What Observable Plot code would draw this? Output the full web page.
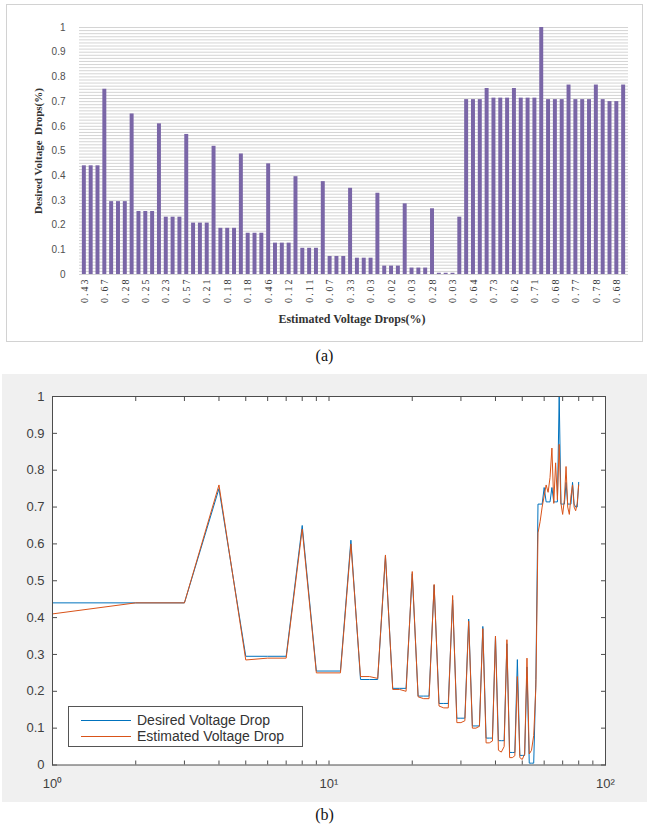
<!DOCTYPE html>
<html><head><meta charset="utf-8">
<script src="https://cdn.jsdelivr.net/npm/d3@7"></script>
<script src="https://cdn.jsdelivr.net/npm/@observablehq/plot@0.6"></script>
<style>
body{margin:0;background:#fff;width:649px;height:827px;position:relative;overflow:hidden;font-family:"Liberation Serif",serif}
#frameA{position:absolute;left:6px;top:4px;width:637px;height:338px;box-sizing:border-box;border:1.5px solid #d2d2d2}
#chartA{position:absolute;left:0;top:0}
#chartA g[aria-label="x-axis tick label"] text{letter-spacing:2px}
#ytitleA{position:absolute;left:38px;top:151px;transform:translate(-50%,-50%) rotate(-90deg);white-space:pre;font:bold 11px "Liberation Serif";color:#333}
#xtitleA{position:absolute;left:352px;top:319px;transform:translate(-50%,-50%);white-space:nowrap;font:bold 12px "Liberation Serif";color:#333}
.cap{position:absolute;left:0;width:649px;text-align:center;font:16px "Liberation Serif";color:#111}
#panelB{position:absolute;left:2px;top:374px;width:645px;height:428px;background:#f0f0f0}
#legend{position:absolute;left:68px;top:706px;width:235px;height:41px;box-sizing:border-box;background:#fff;border:1px solid #555;font:14px "Liberation Sans";color:#333}
.lrow{position:absolute;left:0;height:16px;display:flex;align-items:center}
.lline{width:50px;height:0;border-top:1px solid;margin-left:12px;margin-right:6px}
</style></head>
<body>
<div id="frameA"></div>
<div id="chartA"></div>
<div id="ytitleA">Desired Voltage  Drops(%)</div>
<div id="xtitleA">Estimated Voltage Drops(%)</div>
<div class="cap" style="top:347px">(a)</div>
<div id="panelB"></div>
<div id="legend">
  <div class="lrow" style="top:5px"><div class="lline" style="border-color:#0072BD"></div><span>Desired Voltage Drop</span></div>
  <div class="lrow" style="top:21px"><div class="lline" style="border-color:#D95319"></div><span>Estimated Voltage Drop</span></div>
</div>
<div class="cap" style="top:806px">(b)</div>
<script>
// Desired voltage drops (bars in (a), blue line in (b)), one value per sample
const desired = [
  0.44,0.44,0.44,0.75,
  0.295,0.295,0.295,0.65,
  0.255,0.255,0.255,0.61,
  0.232,0.232,0.232,0.567,
  0.208,0.208,0.208,0.519,
  0.187,0.187,0.187,0.488,
  0.167,0.167,0.167,0.448,
  0.127,0.127,0.127,0.396,
  0.106,0.106,0.106,0.376,
  0.073,0.073,0.073,0.349,
  0.066,0.066,0.066,0.329,
  0.034,0.034,0.034,0.286,
  0.026,0.026,0.026,0.266,
  0.005,0.005,0.005,0.232,
  0.708,0.708,0.708,0.753,
  0.714,0.714,0.714,0.753,
  0.714,0.714,0.714,1.0,
  0.708,0.708,0.708,0.767,
  0.708,0.708,0.708,0.767,
  0.708,0.70,0.70,0.767
];
// Estimated voltage drops (orange line in (b))
const estimated = [
  0.41,0.44,0.44,0.76,
  0.285,0.29,0.29,0.64,
  0.25,0.25,0.25,0.60,
  0.24,0.24,0.235,0.57,
  0.205,0.205,0.20,0.525,
  0.185,0.18,0.18,0.49,
  0.16,0.155,0.155,0.46,
  0.115,0.115,0.12,0.39,
  0.10,0.10,0.105,0.37,
  0.06,0.06,0.065,0.35,
  0.04,0.035,0.05,0.34,
  0.02,0.02,0.025,0.24,
  0.02,0.015,0.03,0.29,
  0.03,0.04,0.08,0.21,
  0.63,0.66,0.70,0.73,
  0.76,0.74,0.78,0.86,
  0.71,0.82,0.72,0.87,
  0.71,0.68,0.72,0.81,
  0.70,0.68,0.73,0.76,
  0.70,0.69,0.71,0.76
];
// Category tick labels of (a), shown on every third bar
const estLabels = ["0.43","0.67","0.28","0.25","0.23","0.57","0.21","0.18","0.18","0.46","0.12","0.11","0.07","0.33","0.03","0.02","0.03","0.28","0.03","0.64","0.73","0.62","0.71","0.68","0.77","0.78","0.68"];
const yTicksA = [0,0.1,0.2,0.3,0.4,0.5,0.6,0.7,0.8,0.9,1];
const yTickLabelsA = ["0","0.1","0.2","0.3","0.4","0.5","0.6","0.7","0.8","0.9","1"];
const yTicksB = [0,0.1,0.2,0.3,0.4,0.5,0.6,0.7,0.8,0.9,1];
const yTickLabelsB = ["0","0.1","0.2","0.3","0.4","0.5","0.6","0.7","0.8","0.9","1"];
const xTicksB = [1,10,100];
const xTickLabelsB = ["10\u2070","10\u00B9","10\u00B2"];
const xMinorB = [1,2,3,4,5,6,7,8,9,10,20,30,40,50,60,70,80,90,100];

const bars = desired.map((v,i)=>({i, v}));
const labelTicks = estLabels.map((_,k)=>k*3);
const gridA = d3.range(0, 1.0001, 0.0125);

const chartA = Plot.plot({
  width:649, height:330,
  marginLeft:79, marginRight:21, marginTop:27, marginBottom:56,
  style:{background:"transparent", fontFamily:"Liberation Serif", fontSize:"10px", color:"#333"},
  x:{type:"band", domain:d3.range(80), padding:0.42},
  y:{domain:[0,1]},
  marks:[
    Plot.ruleY(gridA, {stroke:"#d4d4d4", strokeWidth:1}),
    Plot.barY(bars, {x:"i", y:"v", fill:"#7a66a7"}),
    Plot.axisY({ticks:yTicksA, tickSize:0, tickPadding:14, label:null, fontFamily:"Liberation Sans", fill:"#505050",
      tickFormat:d=>yTickLabelsA[yTicksA.indexOf(d)]}),
    Plot.axisX({ticks:labelTicks, tickSize:0, tickPadding:3, tickRotate:-90, label:null, fill:"#333",
      tickFormat:i=>estLabels[i/3]})
  ]
});
document.getElementById("chartA").append(chartA);

const chartB = Plot.plot({
  width:645, height:428,
  marginLeft:50, marginRight:42, marginTop:22, marginBottom:37.5,
  style:{background:"transparent", fontFamily:"Liberation Sans", fontSize:"13px", color:"#333"},
  x:{type:"log", domain:[1,100]},
  y:{domain:[0,1]},
  marks:[
    Plot.frame({fill:"white", stroke:"none"}),
    Plot.line(desired, {x:(d,i)=>i+1, y:d=>d, stroke:"#0072BD", strokeWidth:1}),
    Plot.line(estimated, {x:(d,i)=>i+1, y:d=>d, stroke:"#D95319", strokeWidth:1}),
    Plot.frame({stroke:"#4d4d4d", strokeWidth:1}),
    Plot.axisY({anchor:"left", ticks:yTicksB, tickSize:0, tickPadding:8, label:null, fill:"#404040",
      tickFormat:d=>yTickLabelsB[yTicksB.indexOf(d)]}),
    Plot.axisY({anchor:"left", ticks:yTicksB, tickSize:5, dx:5, fill:"none", label:null, stroke:"#4d4d4d"}),
    Plot.axisY({anchor:"right", ticks:yTicksB, tickSize:5, dx:-5, fill:"none", label:null, stroke:"#4d4d4d"}),
    Plot.axisX({anchor:"bottom", ticks:xMinorB, tickSize:4, dy:-4, fill:"none", label:null, stroke:"#4d4d4d"}),
    Plot.axisX({anchor:"top", ticks:xMinorB, tickSize:4, dy:4, fill:"none", label:null, stroke:"#4d4d4d"}),
    Plot.axisX({anchor:"bottom", ticks:xTicksB, tickSize:0, tickPadding:14, label:null, fill:"#404040",
      tickFormat:d=>xTickLabelsB[xTicksB.indexOf(d)]})
  ]
});
document.getElementById("panelB").append(chartB);
</script>
</body></html>
